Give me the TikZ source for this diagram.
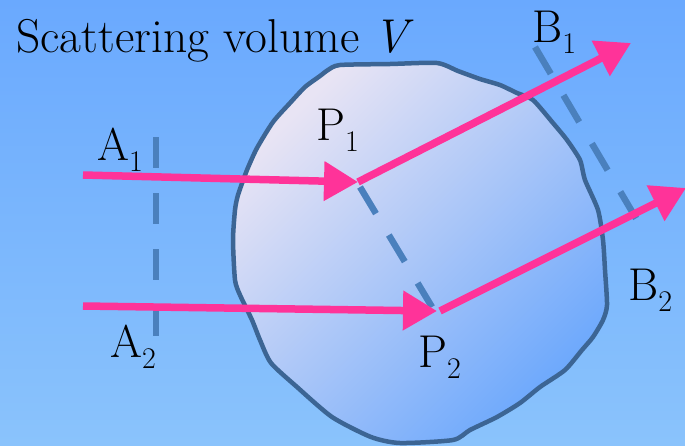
\documentclass[tikz,border=0pt]{standalone}
\usepackage{fontspec}
\usetikzlibrary{arrows.meta}
\definecolor{bgtop}{HTML}{6AA9FE}
\definecolor{bgbot}{HTML}{8AC3FC}
\definecolor{blobA}{HTML}{E8E4F4}
\definecolor{blobB}{HTML}{6CA8FC}
\definecolor{edgec}{HTML}{3C6594}
\definecolor{rayc}{HTML}{FF3399}
\definecolor{dashc}{HTML}{4A80BD}
\newcommand{\lbl}[2]{#1\raisebox{-11pt}{\fontsize{30}{31}\selectfont #2}}
\begin{document}
\begin{tikzpicture}[x=1pt,y=-1pt,
  lab/.style={inner sep=0pt, anchor=base west, font=\rmfamily\fontsize{46}{50}\selectfont},
  ray/.style={draw=rayc, line width=7.5pt, -{Triangle[length=34pt,width=38pt]}},
  dashline/.style={draw=dashc, line width=6.5pt, dash pattern=on 31pt off 25pt}]
\useasboundingbox (0,0) rectangle (685,445);
\shade[top color=bgtop, bottom color=bgbot] (0,0) rectangle (685,445);
% scattering volume
\path[draw=edgec, line width=4.5pt, line join=round, top color=blobA, bottom color=blobB, shading angle=45]
 plot[smooth cycle, tension=0.4] coordinates {
 (340,65) (390,64) (437,63) (458,71) (480,79) (500,85) (517,93) (533,100) (553,123) (567,140)
 (580,160) (585,180) (598,210) (603,240) (605,270) (607,305) (603,320) (593,337) (582,350)
 (565,370) (540,387) (520,403) (497,417) (470,430) (453,440) (400,443) (371,437) (332,417)
 (297,387) (271,363) (260,340) (252,320) (240,295) (235,280) (233,240) (235,210) (238,195)
 (247,170) (257,148) (273,122) (290,103) (305,87) (320,76) (328,70)};
% points
\coordinate (P1) at (358,182);
\coordinate (P2) at (437,311);
\coordinate (P2o) at (440,311);
\coordinate (A1s) at (83,175);
\coordinate (A2s) at (83,306);
\coordinate (B1e) at (631,43);
\coordinate (B2e) at (686,188);
\coordinate (Atop) at (156,137);
\coordinate (Abot) at (156,337);
\coordinate (Ptop) at (360,187);
\coordinate (Pbot) at (432,307);
\coordinate (Btop) at (535,47);
\coordinate (Bbot) at (637,220);
% dashed wavefronts
\draw[dashline] (Atop) -- (Abot);
\draw[dashline] (Ptop) -- (Pbot);
\draw[dashline] (Btop) -- (Bbot);
% rays
\draw[ray] (A1s) -- (P1);
\draw[ray] (A2s) -- (P2);
\draw[ray] (P1) -- (B1e);
\draw[ray] (P2o) -- (B2e);
% labels
\node[lab, font=\rmfamily\fontsize{47.5}{50}\selectfont] (title) at (16,52) {Scattering volume \textit{V}};
\node[lab] (lA1) at (97,160) {\lbl{A}{1}};
\node[lab] (lA2) at (110,357) {\lbl{A}{2}};
\node[lab] (lP1) at (316,140) {\lbl{P}{1}};
\node[lab] (lP2) at (418,367) {\lbl{P}{2}};
\node[lab] (lB1) at (532,42) {\lbl{B}{1}};
\node[lab] (lB2) at (628,300) {\lbl{B}{2}};
\end{tikzpicture}
\end{document}
